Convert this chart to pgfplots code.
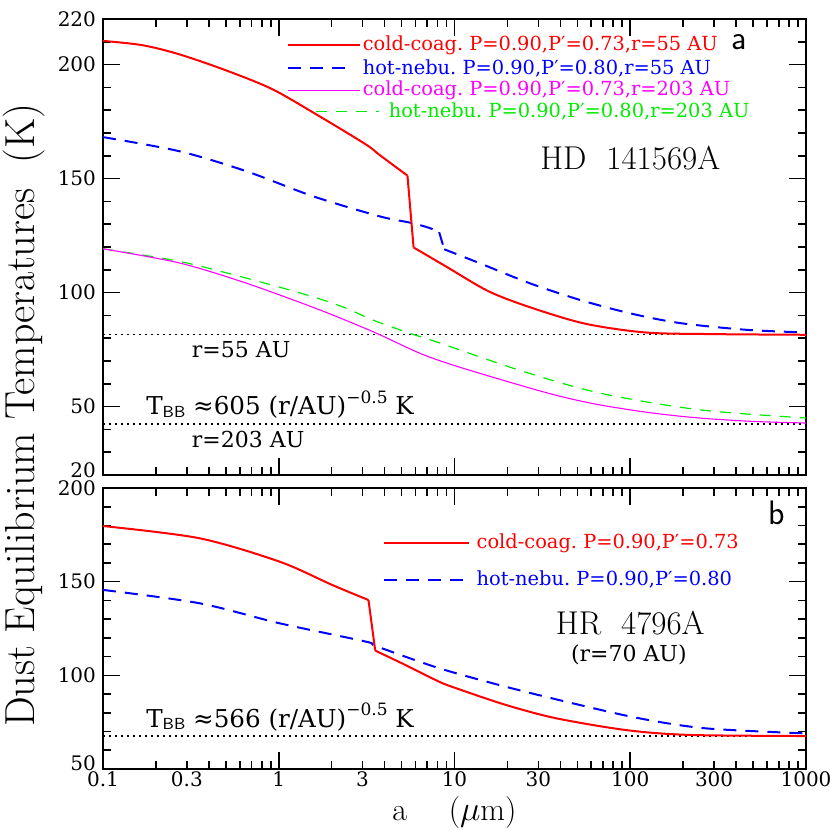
\documentclass[border=0pt]{standalone}
\usepackage{fontspec}
\usepackage{pgfplots}
\pgfplotsset{compat=1.18}
\newfontfamily\djs{DejaVu Serif}
\definecolor{cred}{RGB}{255,0,0}
\definecolor{cblue}{RGB}{0,0,255}
\definecolor{cmag}{RGB}{255,0,255}
\definecolor{cgreen}{RGB}{0,235,0}
\newcommand\leg{\djs\fontsize{9.7}{11}\selectfont}
\newcommand\ann{\djs\fontsize{11}{13}\selectfont}
\newcommand\annb{\djs\fontsize{12.3}{14}\selectfont}
\tikzset{
  red line/.style={cred, line width=1pt},
  blue line/.style={cblue, line width=1pt, dash pattern=on 6.5pt off 4.5pt},
  mag line/.style={cmag, line width=0.55pt},
  green line/.style={cgreen, line width=0.6pt, dash pattern=on 5.5pt off 4.5pt},
  bb line/.style={black, line width=0.9pt, dash pattern=on 0.8pt off 2.2pt},
}

\begin{document}
\begin{tikzpicture}
% short ticks are the "major" ones (they carry the labels),
% the long ticks at decades / every 50 K are given as "minor" ticks
\pgfplotsset{
  every axis/.append style={
    scale only axis, width=351.5pt,
    xmode=log, xmin=0.1, xmax=1000,
    axis line style={line width=0.9pt},
    tick style={line width=0.8pt, black},
    major tick length=4pt, minor tick length=8.5pt,
    tick align=inside,
    xtick={0.1,0.2,0.3,0.4,0.5,0.6,0.7,0.8,0.9,1,2,3,4,5,6,7,8,9,
      10,20,30,40,50,60,70,80,90,100,200,300,400,500,600,700,800,900,1000},
    minor xtick={0.1,1,10,100,1000},
    ticklabel style={font=\djs\fontsize{10}{12}\selectfont},
    /pgf/number format/assume math mode=true,
    xticklabel style={yshift=2pt},
  },
}

% ---- panel a: HD 141569A
\begin{axis}[
  at={(0,0)}, anchor=north west,
  height=228pt,
  ymin=20, ymax=220,
  ytick={20,30,40,50,60,70,80,90,100,110,120,130,140,150,160,170,180,190,200,210,220},
  yticklabels={\raisebox{5pt}{20},{},{},50,{},{},{},{},100,{},{},{},{},150,{},{},{},{},200,{},220},
  minor ytick={50,100,150,200},
  xticklabels={},
]
\addplot[bb line] coordinates {(0.1,81.6) (1000,81.6)};
\addplot[bb line] coordinates {(0.1,42.5) (1000,42.5)};
\addplot[green line, smooth] coordinates {
  (0.1,119.2) (0.272,113.7) (0.65,106.4) (1.5,98.6) (2.41,93.2) (3.4,88.1)
  (5.5,82.3) (8.18,78) (23.3,66) (66.5,56) (247,48.6) (1000,45)};
\addplot[mag line, smooth] coordinates {
  (0.1,119.2) (0.272,113) (0.65,104.2) (1.7,92.5) (3.57,82.3) (6.3,73.5)
  (10,68) (23.3,59.5) (40,54.5) (66.5,50.8) (130,47.3) (247,45) (500,43.5) (1000,42.8)};
% hot-nebu r=55: smooth parts either side of the kink
\addplot[blue line, smooth] coordinates {
  (0.1,168.2) (0.272,162) (0.65,153.3) (1.56,142.3) (3.73,133.5) (5.65,130.6)
  (7.18,128.4) (8.18,126.5)};
\addplot[blue line] coordinates {(8.18,126.5) (8.74,119)};
\addplot[blue line, smooth] coordinates {
  (8.74,119) (13.8,113) (26.6,104.2) (51.2,96.9)
  (98.6,91) (189.6,86.7) (454,83.7) (1000,82.5)};
% cold-coag r=55: jump at about 5.5 micron
\addplot[red line, smooth] coordinates {
  (0.1,210.4) (0.168,208.5) (0.272,204.5) (0.5,197.5) (0.92,189.2) (1.7,177.4)
  (3.13,165) (3.73,160.5) (5.4,151.3)};
\addplot[red line] coordinates {(5.4,151.3) (5.85,119.8)};
\addplot[red line, smooth] coordinates {
  (5.85,119.8) (8.93,111.5) (15.7,100.5)
  (27.8,93.2) (55.9,86.3) (122.6,82.5) (293.6,81.8) (1000,81.5)};

\draw[red line] (rel axis cs:0.263,0.943) -- (rel axis cs:0.366,0.943);
\node[anchor=west, text=cred, font=\leg, inner sep=0pt] at (rel axis cs:0.369,0.943) {cold-coag.\ P=0.90,P′=0.73,r=55 AU};
\draw[blue line] (rel axis cs:0.263,0.892) -- (rel axis cs:0.353,0.892);
\node[anchor=west, text=cblue, font=\leg, inner sep=0pt] at (rel axis cs:0.369,0.892) {hot-nebu.\ P=0.90,P′=0.80,r=55 AU};
\draw[mag line] (rel axis cs:0.263,0.844) -- (rel axis cs:0.366,0.844);
\node[anchor=west, text=cmag, font=\leg, inner sep=0pt] at (rel axis cs:0.369,0.844) {cold-coag.\ P=0.90,P′=0.73,r=203 AU};
\draw[green line] (rel axis cs:0.303,0.797) -- (rel axis cs:0.393,0.797);
\node[anchor=west, text=cgreen, font=\leg, inner sep=0pt] at (rel axis cs:0.406,0.797) {hot-nebu.\ P=0.90,P′=0.80,r=203 AU};
\node[font=\sffamily\fontsize{17}{19}\selectfont] at (rel axis cs:0.905,0.950) {a};
\node[font=\fontsize{16.5}{19}\selectfont] at (rel axis cs:0.750,0.695) {HD\ \ 141569A};
\node[anchor=west, font=\ann, inner sep=0pt] at (rel axis cs:0.126,0.274) {r=55 AU};
\node[anchor=west, font=\annb, inner sep=0pt] at (rel axis cs:0.061,0.154) {T{\sffamily\fontsize{8}{9}\selectfont\raisebox{-0.35ex}{BB}}\ ≈605 (r/AU)\raisebox{0.9ex}{\fontsize{8.5}{9}\selectfont −0.5} K};
\node[anchor=west, font=\ann, inner sep=0pt] at (rel axis cs:0.126,0.077) {r=203 AU};
\end{axis}

% ---- panel b: HR 4796A
\begin{axis}[
  at={(0,-234.5pt)}, anchor=north west,
  height=140.5pt,
  ymin=50, ymax=200,
  ytick={50,60,70,80,90,100,110,120,130,140,150,160,170,180,190,200},
  yticklabels={\raisebox{6pt}{50},{},{},{},{},100,{},{},{},{},150,{},{},{},{},\raisebox{-4pt}{200}},
  minor ytick={100,150},
  xticklabels={0.1,{},0.3,{},{},{},{},{},{},1,{},3,{},{},{},{},{},{},
    10,{},30,{},{},{},{},{},{},100,{},300,{},{},{},{},{},{},1000},
  xlabel={a\hspace{1.3em}($\mu$m)},
  xlabel style={font=\fontsize{16}{18}\selectfont, yshift=2pt},
]
\addplot[bb line] coordinates {(0.1,67.65) (1000,67.65)};
\addplot[blue line, smooth] coordinates {
  (0.1,145.6) (0.353,138.5) (1.01,127.8) (3.13,118) (3.6,115.5) (8.18,103.8)
  (19.6,93.9) (46.9,85.1) (112,77.1) (269,71.7) (1000,69)};
\addplot[red line, smooth] coordinates {
  (0.1,179.7) (0.353,173.2) (1.01,160.7) (2.02,148.2) (3.24,140.2)};
\addplot[red line] coordinates {(3.24,140.2) (3.54,113.2)};
\addplot[red line, smooth] coordinates {
  (3.54,113.2) (5,106.5) (8.18,96.6) (10.6,92.6) (19.6,84.2) (37.8,77.1) (94.4,70.8)
  (216,68.2) (1000,67.6)};

\draw[red line] (rel axis cs:0.400,0.803) -- (rel axis cs:0.521,0.803);
\node[anchor=west, text=cred, font=\leg, inner sep=0pt] at (rel axis cs:0.531,0.803) {cold-coag.\ P=0.90,P′=0.73};
\draw[blue line] (rel axis cs:0.400,0.673) -- (rel axis cs:0.521,0.673);
\node[anchor=west, text=cblue, font=\leg, inner sep=0pt] at (rel axis cs:0.531,0.673) {hot-nebu.\ P=0.90,P′=0.80};
\node[font=\sffamily\fontsize{17}{19}\selectfont] at (rel axis cs:0.959,0.911) {b};
\node[font=\fontsize{16.5}{19}\selectfont] at (rel axis cs:0.750,0.518) {HR\ \ 4796A};
\node[font=\ann] at (rel axis cs:0.748,0.406) {(r=70 AU)};
\node[anchor=west, font=\annb, inner sep=0pt] at (rel axis cs:0.061,0.185) {T{\sffamily\fontsize{8}{9}\selectfont\raisebox{-0.35ex}{BB}}\ ≈566 (r/AU)\raisebox{0.9ex}{\fontsize{8.5}{9}\selectfont −0.5} K};
\end{axis}

\node[rotate=90, font=\fontsize{21}{24}\selectfont] at (-39.3pt,-198pt) {Dust Equilibrium Temperatures\ \ (K)};

\pgfresetboundingbox
\path[use as bounding box] (-51.5pt,9.5pt) rectangle (363.5pt,-405.5pt);
\end{tikzpicture}
\end{document}
